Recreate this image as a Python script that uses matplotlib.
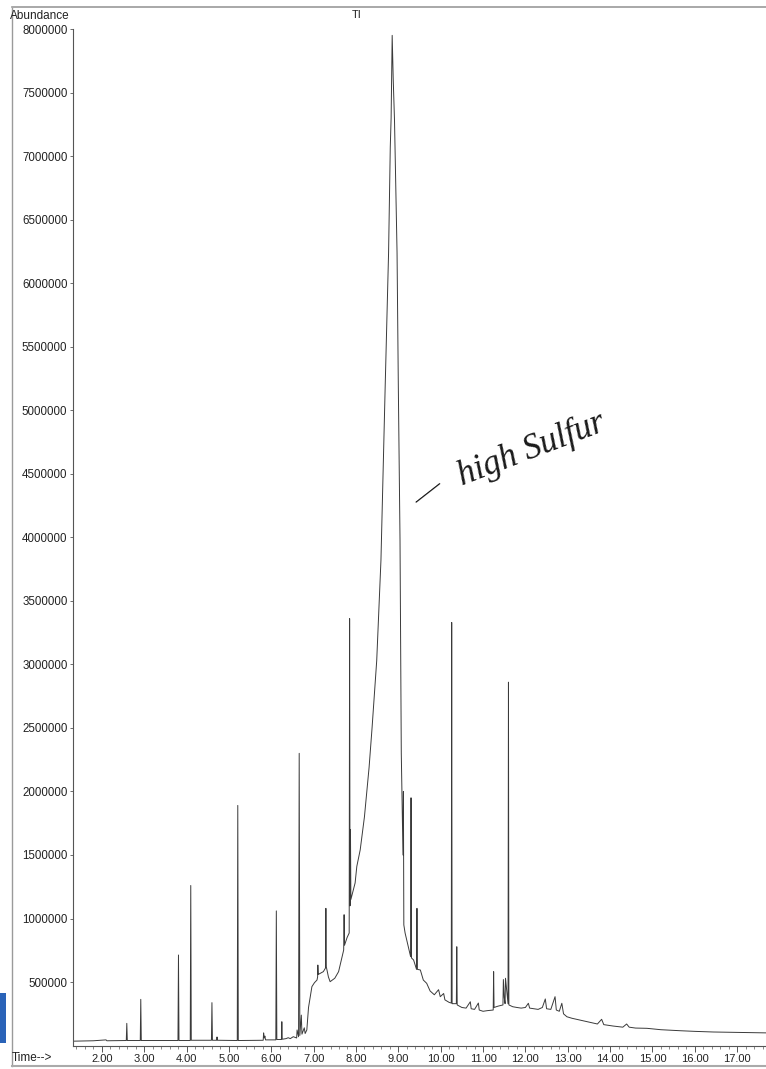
import matplotlib.pyplot as plt
import numpy as np
from matplotlib.ticker import FuncFormatter, MultipleLocator
from matplotlib.patches import Rectangle
from matplotlib.lines import Line2D

# retention time (min) and abundance
time_min = [
    1.35, 1.80, 2.10, 2.12, 2.578, 2.59, 2.602, 2.908, 2.92, 2.932,
    3.40, 3.798, 3.81, 3.822, 4.088, 4.10, 4.112, 4.588, 4.60, 4.612,
    4.71, 4.72, 4.73, 5.198, 5.21, 5.222, 5.81, 5.82, 5.835, 5.85,
    5.865, 6.108, 6.12, 6.132, 6.24, 6.25, 6.26, 6.35, 6.40, 6.45,
    6.52, 6.60, 6.61, 6.645, 6.66, 6.675, 6.71, 6.725, 6.78, 6.80,
    6.84, 6.88, 6.96, 7.02, 7.08, 7.095, 7.10, 7.11, 7.23, 7.28,
    7.29, 7.30, 7.35, 7.39, 7.50, 7.59, 7.71, 7.72, 7.73, 7.79,
    7.84, 7.85, 7.86, 7.87, 7.88, 7.98, 8.02, 8.10, 8.20, 8.31,
    8.38, 8.49, 8.59, 8.69, 8.77, 8.81, 8.83, 8.855, 8.88, 8.91,
    8.97, 9.00, 9.04, 9.07, 9.11, 9.12, 9.13, 9.16, 9.29, 9.30,
    9.31, 9.36, 9.43, 9.44, 9.45, 9.52, 9.59, 9.67, 9.75, 9.85,
    9.95, 9.99, 10.07, 10.10, 10.20, 10.25, 10.26, 10.27, 10.37, 10.38,
    10.39, 10.50, 10.60, 10.70, 10.72, 10.80, 10.89, 10.91, 11.00, 11.10,
    11.24, 11.25, 11.26, 11.35, 11.47, 11.48, 11.50, 11.52, 11.53, 11.59,
    11.60, 11.61, 11.70, 11.80, 11.90, 12.00, 12.07, 12.10, 12.20, 12.30,
    12.40, 12.47, 12.50, 12.60, 12.70, 12.73, 12.80, 12.86, 12.90, 12.98,
    13.10, 13.30, 13.50, 13.70, 13.80, 13.85, 14.07, 14.30, 14.39, 14.45,
    14.60, 14.87, 15.20, 15.66, 16.00, 16.44, 17.00, 17.70,
]
abundance = [
    35000, 38000, 45000, 38000, 40000, 175000, 40000, 40000, 364000, 40000,
    40000, 40000, 713000, 40000, 40000, 1260000, 42000, 42000, 338000, 42000,
    42000, 68000, 42000, 40000, 1890000, 40000, 42000, 100000, 60000, 75000,
    45000, 45000, 1060000, 48000, 48000, 188000, 50000, 55000, 62000, 55000,
    70000, 60000, 123000, 70000, 2300000, 80000, 240000, 90000, 140000, 95000,
    123000, 300000, 464000, 495000, 516000, 540000, 634000, 560000, 582000, 610000,
    1080000, 620000, 540000, 503000, 530000, 582000, 752000, 1030000, 790000, 850000,
    886000, 3360000, 1100000, 1700000, 1150000, 1280000, 1410000, 1540000, 1800000, 2190000,
    2500000, 3030000, 3820000, 5190000, 6240000, 7070000, 7300000, 7950000, 7600000, 7280000,
    6240000, 5190000, 3980000, 2300000, 1500000, 2000000, 950000, 886000, 700000, 1950000,
    690000, 674000, 600000, 1080000, 600000, 595000, 516000, 490000, 430000, 400000,
    440000, 385000, 410000, 360000, 340000, 335000, 3330000, 330000, 330000, 778000,
    320000, 300000, 295000, 345000, 290000, 285000, 335000, 280000, 270000, 275000,
    280000, 582000, 300000, 310000, 320000, 520000, 380000, 330000, 530000, 330000,
    2860000, 320000, 306000, 300000, 295000, 300000, 333000, 295000, 290000, 285000,
    300000, 367000, 290000, 285000, 385000, 280000, 270000, 333000, 250000, 227000,
    215000, 200000, 185000, 170000, 207000, 165000, 154000, 145000, 170000, 145000,
    138000, 136000, 125000, 117000, 112000, 107000, 104000, 100000,
]

x_ticks = np.arange(2, 18)
y_ticks = np.arange(500000, 8000001, 500000)

W, H = 766, 1069
fig = plt.figure(figsize=(W / 100, H / 100), dpi=100)

# axes box measured in pixels from the scan
ax_left, ax_top, ax_bottom = 73, 29, 1045.6
ax = fig.add_axes([ax_left / W, 1 - ax_bottom / H, 1 - ax_left / W, (ax_bottom - ax_top) / H])

ax.plot(time_min, abundance, color='#3a3a3a', lw=0.7)

ax.set_xlim(1.32, 17.68)
ax.set_ylim(0, 8000000)

ax.set_xticks(x_ticks)
ax.xaxis.set_minor_locator(MultipleLocator(0.2))
ax.xaxis.set_major_formatter(FuncFormatter(lambda v, p: f"{v:.2f}"))
ax.set_yticks(y_ticks)
ax.yaxis.set_major_formatter(FuncFormatter(lambda v, p: f"{int(v)}"))

for s in ['top', 'right']:
    ax.spines[s].set_visible(False)
for s in ['left', 'bottom']:
    ax.spines[s].set_color('#555555')
    ax.spines[s].set_linewidth(0.8)

ax.tick_params(axis='x', which='major', direction='out', length=4, width=0.7,
               colors='#555555', labelcolor='#222222', labelsize=8, pad=2)
ax.tick_params(axis='x', which='minor', direction='out', length=2.5, width=0.6, colors='#777777')
ax.tick_params(axis='y', direction='out', length=2, width=0.6,
               colors='#555555', labelcolor='#222222', labelsize=8.3, pad=2)
for lab in ax.get_xticklabels() + ax.get_yticklabels():
    lab.set_family('Liberation Sans')

# header / footer text of the instrument printout
fig.text(10 / W, 1 - 16 / H, "Abundance", fontsize=8.5, family='Liberation Sans',
         color='#222222', va='center', ha='left')
fig.text(352 / W, 1 - 15 / H, "TI", fontsize=8, family='Liberation Sans',
         color='#222222', va='center', ha='left')
fig.text(12 / W, 1 - 1058 / H, "Time-->", fontsize=8.5, family='Liberation Sans',
         color='#222222', va='center', ha='left')

# handwritten note
ax.text(9.52, 4230000, "\u2014", rotation=38, rotation_mode='anchor',
        fontsize=22, family='Liberation Serif', color='#1a1a1a',
        ha='left', va='baseline')
ax.text(10.51, 4410000, "high Sulfur", rotation=21, rotation_mode='anchor',
        fontsize=25, family='Liberation Serif', style='italic', color='#1a1a1a',
        ha='left', va='baseline')

# outer frame of the scanned page
fig.add_artist(Line2D([12 / W, 12 / W], [1 - 8 / H, 1 - 1066 / H], color='#9a9a9a', lw=1.0))
fig.add_artist(Line2D([12 / W, 1], [1 - 7 / H, 1 - 7 / H], color='#9a9a9a', lw=1.2))
fig.add_artist(Line2D([12 / W, 1], [1 - 1066 / H, 1 - 1066 / H], color='#aaaaaa', lw=1.5))

# blue scan mark on the left edge
fig.add_artist(Rectangle((0, 1 - 1043 / H), 6 / W, 50 / H, transform=fig.transFigure,
                         color='#2a63b8', lw=0))

fig.savefig("out.png", dpi=100)
